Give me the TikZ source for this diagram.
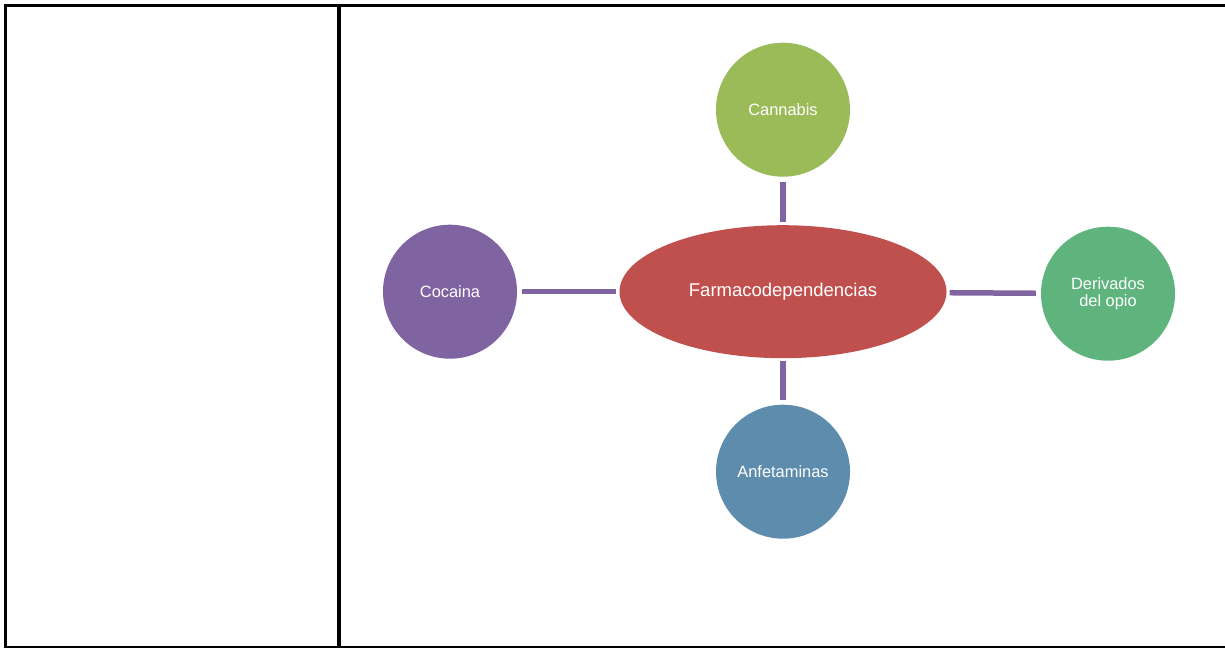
\documentclass[tikz,border=0pt]{standalone}
\usepackage{fontspec}
\setmainfont{Liberation Sans}
\usetikzlibrary{shapes.geometric}
\definecolor{hubred}{HTML}{C0504D}
\definecolor{leafgreen}{HTML}{9BBB59}
\definecolor{leafjade}{HTML}{5EB47C}
\definecolor{leafblue}{HTML}{5E8CAC}
\definecolor{leafviolet}{HTML}{8064A2}
\tikzset{node distance=182pt, auto,
  hub/.style={ellipse, fill=hubred, text=white, minimum width=327pt,
    minimum height=133pt, inner sep=0pt, font=\fontsize{18.5}{20}\selectfont},
  leaf/.style={circle, text=white, minimum size=134pt, inner sep=0pt,
    align=center, font=\fontsize{16.4}{16.8}\selectfont},
  link/.style={draw=leafviolet, line width=5.5pt, shorten <=3pt, shorten >=5pt},
  rule/.style={draw=black, line width=3.5pt}}

\begin{document}
\begin{tikzpicture}[x=1pt, y=-1pt]
                \useasboundingbox (0,0) rectangle (1225,648);
                % table frame
                \draw[rule] (4,5.5) -- (1225,5.5);
                \draw[rule] (5.5,4) -- (5.5,648);
                \draw[rule, line width=4pt] (338.7,4) -- (338.7,648);
                \draw[line width=1.5pt] (4,647) -- (1225,647);
                % diagram
                \node (hub) [hub] at (783,291.7) {Farmacodependencias};
                \node (cannabis) [leaf, fill=leafgreen, above of=hub] {Cannabis};
                \node (anfetaminas) [leaf, fill=leafblue, below of=hub, node distance=180pt] {Anfetaminas};
                \node (cocaina) [leaf, fill=leafviolet, left of=hub, node distance=333pt] {Cocaina};
                \node (derivados) [leaf, fill=leafjade, right of=hub, node distance=325pt, yshift=-2pt] {Derivados\\del opio};
                \draw[link] (hub) to (cannabis);
                \draw[link] (hub) to (anfetaminas);
                \draw[link] (hub) to (cocaina);
                \draw[link] (hub) to (derivados);
              \end{tikzpicture}
\end{document}
